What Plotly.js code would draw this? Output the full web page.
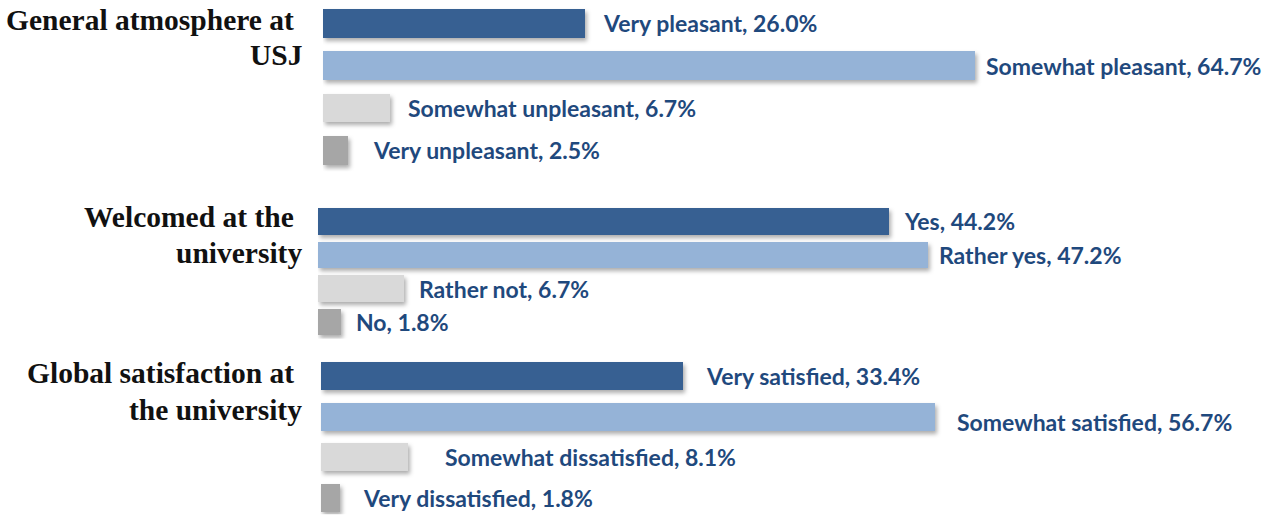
<!DOCTYPE html>
<html>
<head>
<meta charset="utf-8">
<script src="https://cdn.plot.ly/plotly-3.0.1.min.js"></script>
<style>
  html, body { margin: 0; padding: 0; background: #ffffff; }
  #chart { width: 1278px; height: 516px; }
  .barlayer .point path { filter: drop-shadow(2px 3px 2px rgba(0,0,0,0.32)); }
</style>
</head>
<body>
<div id="chart"></div>
<script>
// ---- data ----
const titleLines1 = ["General atmosphere at", "USJ"];
const titleLines2 = ["Welcomed at the", "university"];
const titleLines3 = ["Global satisfaction at", "the university"];

const categories1 = ["Very pleasant", "Somewhat pleasant", "Somewhat unpleasant", "Very unpleasant"];
const values1 = [26.0, 64.7, 6.7, 2.5];

const categories2 = ["Yes", "Rather yes", "Rather not", "No"];
const values2 = [44.2, 47.2, 6.7, 1.8];

const categories3 = ["Very satisfied", "Somewhat satisfied", "Somewhat dissatisfied", "Very dissatisfied"];
const values3 = [33.4, 56.7, 8.1, 1.8];

// ---- styling ----
const barColors = ["#376092", "#95B3D7", "#D9D9D9", "#A6A6A6"];
const labelColor = "#1F497D";
const W = 1278, H = 516;

const groups = [
  { cats: categories1, vals: values1, title: titleLines1,
    x0: 322.7, scale: 10.08, yTop: 2.17, yBot: 171.5, yRange: [3.5, -0.5], width: 0.68,
    gaps: [18, 11, 18, 25], yshifts: [0, 0, 0, 0], titleY: [20, 55] },
  { cats: categories2, vals: values2, title: titleLines2,
    x0: 317.7, scale: 12.93, yTop: 204.75, yBot: 338.75, yRange: [3.5, -0.5], width: 0.785,
    gaps: [15, 11, 15, 15], yshifts: [0, 0, 0, 0], titleY: [217, 252.7] },
  { cats: categories3, vals: values3, title: titleLines3,
    x0: 320.5, scale: 10.84, yTop: 355.67, yBot: 514.3, yRange: [3.4, -0.5], width: 0.69,
    gaps: [23, 22, 37, 23], yshifts: [0, -5, 0, 0], titleY: [373, 410] }
];

const data = [];
const annotations = [];
const layout = {
  width: W, height: H,
  margin: { l: 0, r: 0, t: 0, b: 0 },
  paper_bgcolor: "#ffffff",
  plot_bgcolor: "rgba(0,0,0,0)",
  showlegend: false,
  bargap: 0
};

groups.forEach((g, i) => {
  const n = i === 0 ? "" : String(i + 1);
  const xa = "x" + n, ya = "y" + n;
  const idx = g.cats.map((_, k) => k);
  data.push({
    type: "bar",
    orientation: "h",
    x: g.vals,
    y: idx,
    xaxis: xa, yaxis: ya,
    width: g.width,
    marker: { color: barColors, line: { width: 0 } },
    hoverinfo: "skip"
  });
  layout["xaxis" + n] = {
    domain: [g.x0 / W, 1],
    range: [0, (W - g.x0) / g.scale],
    anchor: ya,
    visible: false, fixedrange: true
  };
  layout["yaxis" + n] = {
    domain: [1 - g.yBot / H, 1 - g.yTop / H],
    range: g.yRange,
    anchor: xa,
    visible: false, fixedrange: true
  };
  g.cats.forEach((c, k) => {
    annotations.push({
      xref: xa, yref: ya,
      x: g.vals[k], y: k,
      xanchor: "left", yanchor: "middle",
      xshift: g.gaps[k] - 2, yshift: g.yshifts[k],
      text: c + ", " + g.vals[k].toFixed(1) + "%",
      showarrow: false,
      font: { family: "Lato, 'Open Sans', sans-serif", size: 23, color: labelColor, weight: 700 }
    });
  });
  g.title.forEach((t, k) => {
    annotations.push({
      xref: "paper", yref: "paper",
      x: (k === 0 ? 296 : 303.5) / W,
      y: 1 - g.titleY[k] / H,
      xanchor: "right", yanchor: "middle",
      text: "<b>" + t + "</b>",
      showarrow: false,
      font: { family: "'Liberation Serif', 'Times New Roman', serif", size: 29.5, color: "#111111" }
    });
  });
});
layout.annotations = annotations;

Plotly.newPlot("chart", data, layout, { displayModeBar: false, staticPlot: true });
</script>
</body>
</html>
